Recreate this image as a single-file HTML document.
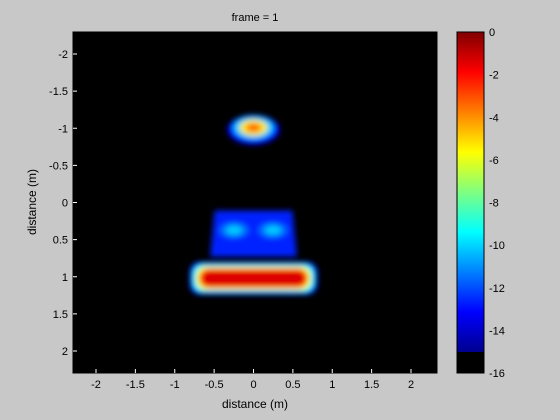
<!DOCTYPE html>
<html><head><meta charset="utf-8"><style>
body{margin:0;background:#c8c8c8;}
svg{display:block;font-family:"Liberation Sans",sans-serif;}
</style></head><body>
<svg id="fig" width="560" height="420">
<defs>
<filter id="bl" x="-30%" y="-50%" width="160%" height="200%"><feGaussianBlur stdDeviation="3"/></filter>
<linearGradient id="jet" x1="0" y1="1" x2="0" y2="0">
<stop offset="0" stop-color="#00008f"/><stop offset="0.125" stop-color="#0000ff"/>
<stop offset="0.375" stop-color="#00ffff"/><stop offset="0.625" stop-color="#ffff00"/>
<stop offset="0.875" stop-color="#ff0000"/><stop offset="1" stop-color="#800000"/>
</linearGradient>
<clipPath id="ax"><rect x="73" y="32" width="364" height="341"/></clipPath>
</defs>
<text x="255" y="21" font-size="11" text-anchor="middle">frame = 1</text>
<rect x="73" y="32" width="364" height="341" fill="#000" stroke="#000"/>
<g id="blobs" clip-path="url(#ax)"></g>
<g id="xt"></g>
<g id="yt"></g>
<text x="255" y="408" font-size="12" text-anchor="middle">distance (m)</text>
<text transform="translate(36,202) rotate(-90)" font-size="12" text-anchor="middle">distance (m)</text>
<g>
<rect x="457" y="32" width="27" height="320" fill="url(#jet)"/>
<rect x="457" y="352" width="27" height="21" fill="#000"/>
<rect x="457" y="32" width="27" height="341" fill="none" stroke="#000"/>
</g>
<g id="ct"></g>
</svg>
<script>
const xTicks=[-2,-1.5,-1,-0.5,0,0.5,1,1.5,2];
const yTicks=[-2,-1.5,-1,-0.5,0,0.5,1,1.5,2];
const cTicks=[0,-2,-4,-6,-8,-10,-12,-14,-16];
// blobs: [cx, cy] and [halfWidth, halfHeight] in data units; colors outer->inner
const blobCenters=[[0,-0.98],[0,0.42],[0,1.02]];
const blobSizes=[[0.33,0.2],[0.55,0.31],[0.81,0.22]];
const blobColors=[["#0000ff","#00ccff","#ffee00","#ff6600"],["#0022ff","#0066ff","#00ccff"],["#0000ff","#00ffff","#ffff00","#ff0000","#dd0000"]];
const NS="http://www.w3.org/2000/svg";
const xs=v=>253.5+78.75*v, ys=v=>202.5+74.25*v, cs=v=>32-v*(341/16);
function mk(t,a,p){const e=document.createElementNS(NS,t);for(const k in a)e.setAttribute(k,a[k]);p.appendChild(e);return e;}
const xt=document.getElementById('xt'),yt=document.getElementById('yt'),ct=document.getElementById('ct');
xTicks.forEach(v=>{const x=xs(v);
 const l=mk('line',{x1:x,x2:x,y1:373,y2:369,stroke:'#fff'},xt);
 
 
 const t=mk('text',{x:x,y:388,'font-size':11,'text-anchor':'middle'},xt);t.textContent=v;
 
 });
yTicks.forEach(v=>{const y=ys(v);
 const l=mk('line',{x1:73,x2:77,y1:y,y2:y,stroke:'#fff'},yt);
 
 
 const t=mk('text',{x:68,y:y+4,'font-size':11,'text-anchor':'end'},yt);t.textContent=v;
 
 });
cTicks.forEach(v=>{const y=cs(v);
 const t=mk('text',{x:489,y:y+4,'font-size':11},ct);t.textContent=v;
 
 });
const g=document.getElementById('blobs');
blobCenters.forEach((c,i)=>{
 const cx=xs(c[0]),cy=ys(c[1]),hw=blobSizes[i][0]*78.75,hh=blobSizes[i][1]*74.25;
 const cols=blobColors[i];
 const grp=mk('g',{filter:'url(#bl)'},g);
 
 
 cols.forEach((col,k)=>{
  const f=1-k/(cols.length+0.3);
  const w=hw*(i===2?1-k*0.05:f), h=hh*(i===2?1-k*0.14:f);
  if(i===0){mk('ellipse',{cx:cx,cy:cy-(k?2:0),rx:w,ry:h,fill:col},grp);}
  else if(i===1&&k===0){mk('path',{d:`M${cx-hw*0.9},${cy-hh} L${cx+hw*0.9},${cy-hh} L${cx+hw},${cy+hh} L${cx-hw},${cy+hh}Z`,fill:col},grp);}
  else if(i===1){mk('ellipse',{cx:cx-hw*0.45,cy:cy-hh*0.15,rx:hw*0.35*f*1.4,ry:hh*0.35*f*1.4,fill:col},grp);
   mk('ellipse',{cx:cx+hw*0.45,cy:cy-hh*0.15,rx:hw*0.35*f*1.4,ry:hh*0.35*f*1.4,fill:col},grp);}
  else {mk('rect',{x:cx-w,y:cy-h,width:2*w,height:2*h,rx:Math.min(h,10),fill:col},grp);}
 });
});
</script>
</body></html>
